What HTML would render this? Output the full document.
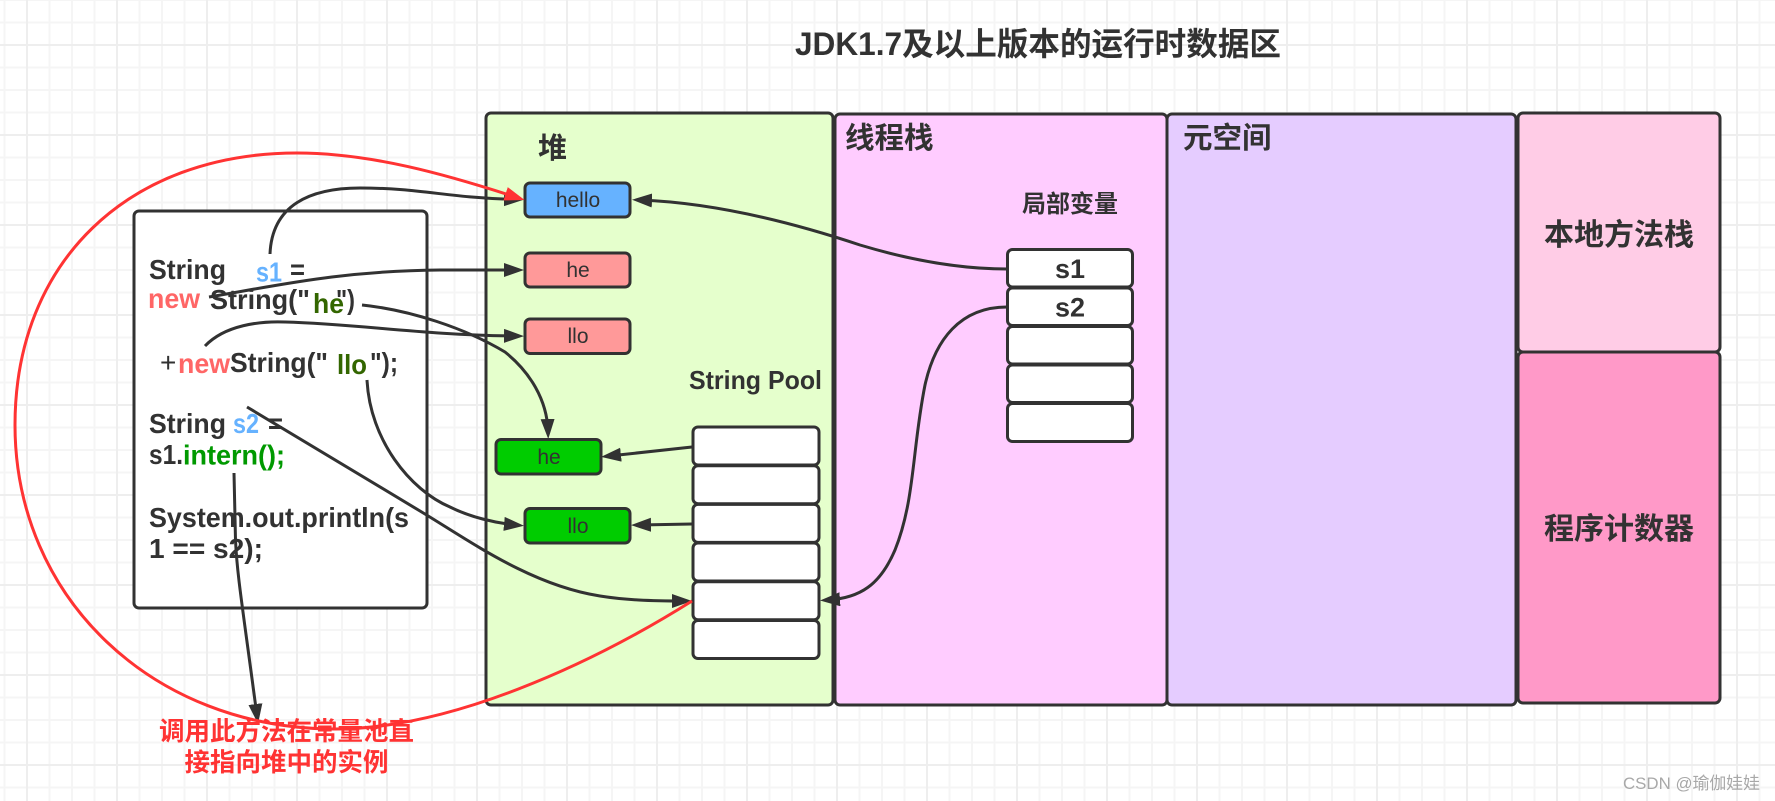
<!DOCTYPE html>
<html><head><meta charset="utf-8"><style>
html,body{margin:0;padding:0;background:#fff;width:1775px;height:801px;overflow:hidden}
svg{display:block}
text{font-family:"Liberation Sans","Noto Sans CJK SC",sans-serif;font-weight:700;fill:#323232}
.cjk{font-family:"Noto Sans CJK SC","Liberation Sans",sans-serif}
.r{font-weight:400;font-size:21px;text-anchor:middle}
.c{font-size:28px}
.box{stroke:#323232;stroke-width:3}
.ln{fill:none;stroke:#323232;stroke-width:3}
</style></head><body>
<svg width="1775" height="801" viewBox="0 0 1775 801" xmlns="http://www.w3.org/2000/svg">
<defs>
<pattern id="minor" x="3.5" y="-1" width="22.5" height="22.5" patternUnits="userSpaceOnUse">
<path d="M1 0V22.5M0 1H22.5" fill="none" stroke="#f5f5f5" stroke-width="2"/></pattern>
<pattern id="major" x="26" y="44" width="90" height="90" patternUnits="userSpaceOnUse">
<path d="M1 0V90M0 1H90" fill="none" stroke="#eeeeee" stroke-width="2"/></pattern>
<marker id="a" markerUnits="userSpaceOnUse" markerWidth="22" markerHeight="16" refX="12" refY="7" orient="auto"><polygon points="0,0 20,7 0,14" fill="#323232"/></marker>
<marker id="ar" markerUnits="userSpaceOnUse" markerWidth="22" markerHeight="16" refX="12" refY="7" orient="auto"><polygon points="0,0 20,7 0,14" fill="#ff3333"/></marker>
</defs>
<rect width="1775" height="801" fill="#fff"/>
<rect width="1775" height="801" fill="url(#minor)"/>
<rect width="1775" height="801" fill="url(#major)"/>

<text x="795" y="55" font-size="32" textLength="486" lengthAdjust="spacingAndGlyphs">JDK1.7及以上版本的运行时数据区</text>

<!-- main areas -->
<rect class="box" x="486" y="113" width="347" height="592" rx="5" fill="#e5ffcc"/>
<rect class="box" x="835" y="114" width="332" height="591" rx="5" fill="#ffccff"/>
<rect class="box" x="1167" y="114" width="349" height="591" rx="5" fill="#e5ccff"/>
<rect class="box" x="1518" y="113" width="202" height="239" rx="5" fill="#ffcce6"/>
<rect class="box" x="1518" y="352" width="202" height="351" rx="5" fill="#ff99c8"/>
<rect class="box" x="134" y="211" width="293" height="397" rx="5" fill="#fff"/>

<!-- area labels -->
<text class="cjk" x="538" y="158" font-size="29">堆</text>
<text class="cjk" x="845" y="148" font-size="29.5">线程栈</text>
<text class="cjk" x="1183" y="148" font-size="29.5">元空间</text>
<text class="cjk" x="1022" y="212" font-size="24">局部变量</text>
<text x="689" y="389" font-size="26" textLength="133" lengthAdjust="spacingAndGlyphs">String Pool</text>
<text class="cjk" x="1619" y="245" font-size="30" text-anchor="middle">本地方法栈</text>
<text class="cjk" x="1619" y="539" font-size="30" text-anchor="middle">程序计数器</text>

<!-- heap objects -->
<rect class="box" x="525" y="183" width="105" height="34" rx="5" fill="#66b2ff"/>
<text class="r" x="578" y="207">hello</text>
<rect class="box" x="525" y="253" width="105" height="34" rx="5" fill="#ff9999"/>
<text class="r" x="578" y="277">he</text>
<rect class="box" x="525" y="319" width="105" height="34.5" rx="5" fill="#ff9999"/>
<text class="r" x="578" y="343">llo</text>
<rect class="box" x="496" y="439.5" width="105" height="34.5" rx="5" fill="#00cc00"/>
<text class="r" x="549" y="464">he</text>
<rect class="box" x="525" y="508.5" width="105" height="34.5" rx="5" fill="#00cc00"/>
<text class="r" x="578" y="533">llo</text>

<!-- string pool -->
<rect class="box" x="693" y="427" width="126" height="38" rx="5" fill="#fff"/>
<rect class="box" x="693" y="465.7" width="126" height="38" rx="5" fill="#fff"/>
<rect class="box" x="693" y="504.4" width="126" height="38" rx="5" fill="#fff"/>
<rect class="box" x="693" y="543" width="126" height="38" rx="5" fill="#fff"/>
<rect class="box" x="693" y="581.8" width="126" height="38" rx="5" fill="#fff"/>
<rect class="box" x="693" y="620.5" width="126" height="38" rx="5" fill="#fff"/>

<!-- locals -->
<rect class="box" x="1007.5" y="249.5" width="125" height="37.5" rx="5" fill="#fff"/>
<rect class="box" x="1007.5" y="288" width="125" height="37.5" rx="5" fill="#fff"/>
<rect class="box" x="1007.5" y="326.5" width="125" height="37.5" rx="5" fill="#fff"/>
<rect class="box" x="1007.5" y="365" width="125" height="37.5" rx="5" fill="#fff"/>
<rect class="box" x="1007.5" y="403.5" width="125" height="38" rx="5" fill="#fff"/>
<text x="1070" y="278" font-size="27" text-anchor="middle">s1</text>
<text x="1070" y="316.5" font-size="27" text-anchor="middle">s2</text>

<!-- code -->
<text class="c" x="149" y="279" textLength="77" lengthAdjust="spacingAndGlyphs">String</text>
<text class="c" x="256" y="281.5" style="fill:#66b2ff" textLength="26" lengthAdjust="spacingAndGlyphs">s1</text>
<text class="c" x="290" y="279" textLength="15" lengthAdjust="spacingAndGlyphs">=</text>
<text class="c" x="148" y="308" style="fill:#ff6666" textLength="52" lengthAdjust="spacingAndGlyphs">new</text>
<text class="c" x="210" y="309" textLength="100" lengthAdjust="spacingAndGlyphs">String("</text>
<text class="c" x="313" y="313" style="fill:#336600" textLength="31" lengthAdjust="spacingAndGlyphs">he</text>
<text class="c" x="336" y="309" textLength="19" lengthAdjust="spacingAndGlyphs">")</text>
<text class="c" x="160" y="372" style="font-weight:400">+</text>
<text class="c" x="178" y="373" style="fill:#ff6666" textLength="52" lengthAdjust="spacingAndGlyphs">new</text>
<text class="c" x="230" y="372" textLength="98" lengthAdjust="spacingAndGlyphs">String("</text>
<text class="c" x="337" y="374" style="fill:#336600" textLength="30" lengthAdjust="spacingAndGlyphs">llo</text>
<text class="c" x="370" y="372" textLength="28" lengthAdjust="spacingAndGlyphs">");</text>
<text class="c" x="149" y="433" textLength="77" lengthAdjust="spacingAndGlyphs">String</text>
<text class="c" x="233" y="433" style="fill:#66b2ff" textLength="26" lengthAdjust="spacingAndGlyphs">s2</text>
<text class="c" x="268" y="433" textLength="15" lengthAdjust="spacingAndGlyphs">=</text>
<text class="c" x="149" y="464" textLength="34" lengthAdjust="spacingAndGlyphs">s1.</text>
<text class="c" x="183" y="464.5" style="fill:#009900" textLength="102" lengthAdjust="spacingAndGlyphs">intern();</text>
<text class="c" x="149" y="527" textLength="260" lengthAdjust="spacingAndGlyphs">System.out.println(s</text>
<text class="c" x="149" y="558" textLength="114" lengthAdjust="spacingAndGlyphs">1 == s2);</text>

<!-- connectors -->
<path class="ln" marker-end="url(#a)" d="M270 254 C272 205 310 188 360 188 C 420 188 450 198 516 199.5"/>
<path class="ln" marker-end="url(#a)" d="M209 297 C280 285 340 271 440 270 L516 270"/>
<path class="ln" marker-end="url(#a)" d="M362 305 C410 310 465 328 505 352 C530 372 547 400 548 431"/>
<path class="ln" marker-end="url(#a)" d="M205 346 C225 325 260 321 285 322 C360 324 420 335 516 336"/>
<path class="ln" marker-end="url(#a)" d="M367 380 C370 440 410 490 450 507 C470 517 495 523 516 525"/>
<path class="ln" marker-end="url(#a)" d="M247 407 L420 511 C470 541 530 585 600 596 C625 600 650 601 684 601"/>
<path class="ln" marker-end="url(#a)" d="M234 473 L235.500 540 C237 575 243 610 257 716"/>
<path class="ln" marker-end="url(#a)" d="M692 447 L609 456"/>
<path class="ln" marker-end="url(#a)" d="M692 524 L639 525"/>
<path class="ln" marker-end="url(#a)" d="M1007 269 C960 269 910 260 860 245 C800 225 720 203 640 200"/>
<path class="ln" marker-end="url(#a)" d="M1007 307 C960 307 935 340 925 385 C912 450 915 500 895 550 C880 585 860 598 828 600"/>
<path fill="none" stroke="#ff3333" stroke-width="3" marker-end="url(#ar)" d="M692 601 C590 665 450 729 335 729 C153 729 15 598 15 425 C15 262 128 153 297 153 C370 153 445 174 517 197.500"/>

<!-- red note -->
<text class="cjk" x="286.5" y="740" font-size="25.5" text-anchor="middle" style="fill:#ff3333">调用此方法在常量池直</text>
<text class="cjk" x="286.5" y="771" font-size="25.5" text-anchor="middle" style="fill:#ff3333">接指向堆中的实例</text>

<text x="1623" y="789" font-size="17" style="font-weight:400;fill:#a8a8a8" textLength="137" lengthAdjust="spacingAndGlyphs">CSDN @瑜伽娃娃</text>
</svg>
</body></html>
